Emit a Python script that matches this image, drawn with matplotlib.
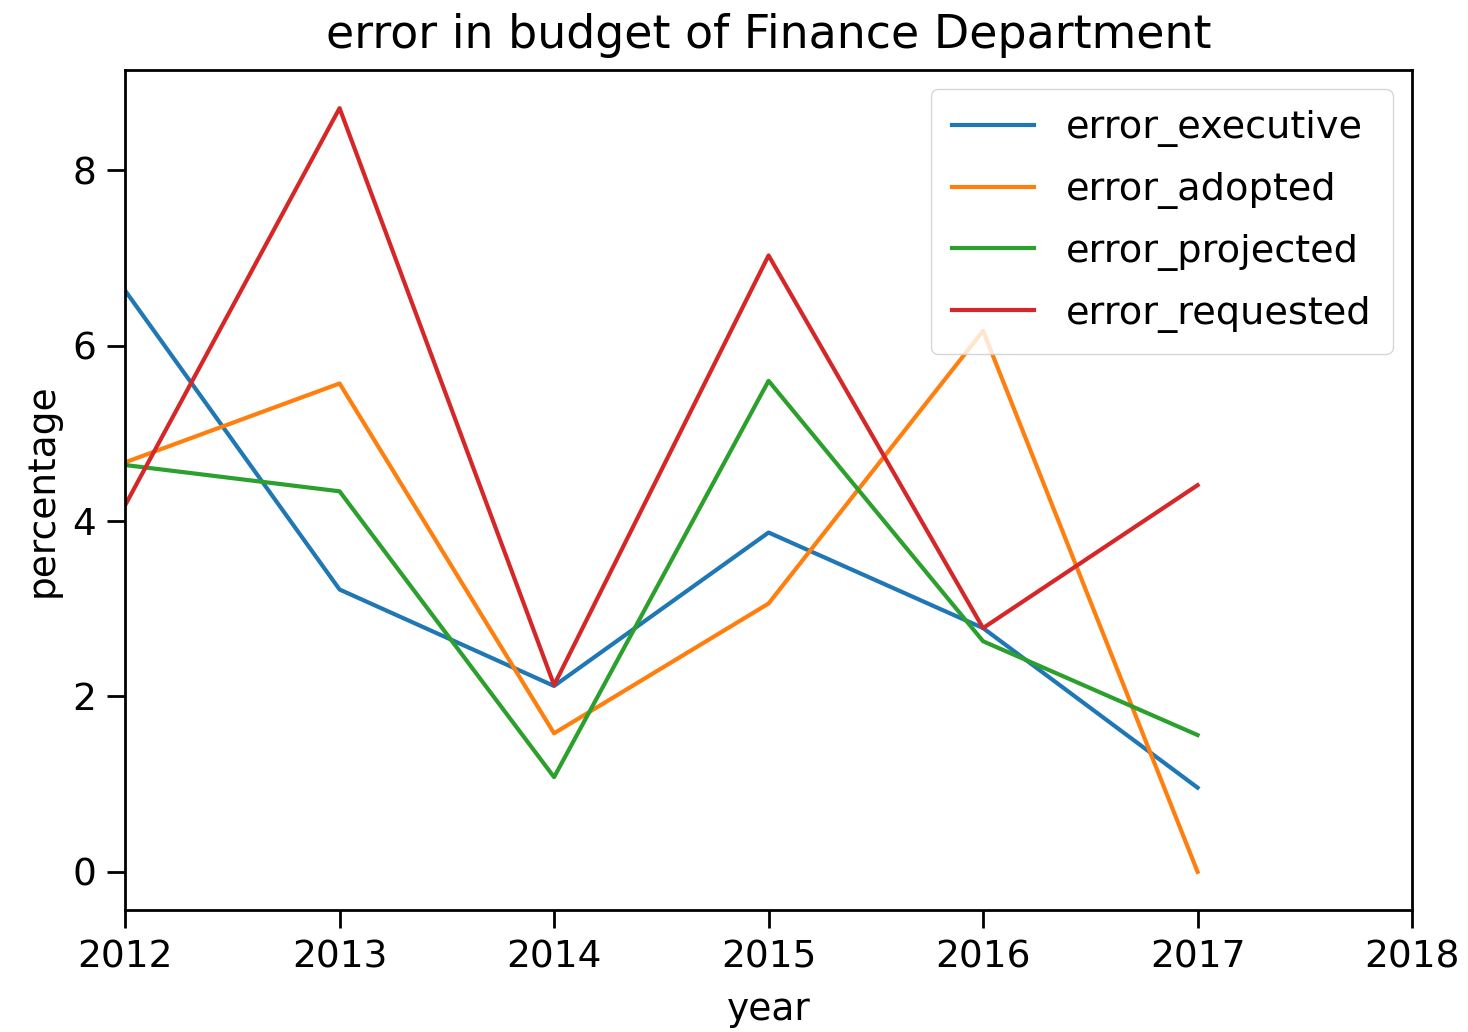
import matplotlib
matplotlib.use("Agg")
import matplotlib.pyplot as plt

# --- Data ---
years = [2012, 2013, 2014, 2015, 2016, 2017]
error_executive = [6.63, 3.22, 2.12, 3.87, 2.78, 0.96]
error_adopted = [4.67, 5.57, 1.58, 3.06, 6.17, 0.0]
error_projected = [4.64, 4.34, 1.08, 5.60, 2.63, 1.56]
error_requested = [4.18, 8.71, 2.13, 7.03, 2.78, 4.41]

series = {
    "error_executive": error_executive,
    "error_adopted": error_adopted,
    "error_projected": error_projected,
    "error_requested": error_requested,
}

# --- Plotting ---
fig = plt.figure(figsize=(14.68, 10.32), dpi=100)
ax = fig.add_axes([0.0852, 0.1182, 0.8767, 0.814])

for name, vals in series.items():
    ax.plot(years, vals, label=name, linewidth=3)

ax.set_xlim(2012, 2018)
ax.set_xticks([2012, 2013, 2014, 2015, 2016, 2017, 2018])
ax.set_yticks([0, 2, 4, 6, 8])
ax.set_title("error in budget of Finance Department", fontsize=33, pad=16)
ax.set_xlabel("year", fontsize=27, labelpad=12)
ax.set_ylabel("percentage", fontsize=27, labelpad=8)
ax.tick_params(labelsize=27, length=13, width=2, pad=8)
for sp in ax.spines.values():
    sp.set_linewidth(2)
ax.legend(loc="upper right", fontsize=27.5, handlelength=2.15, borderpad=0.55,
          labelspacing=0.65, handletextpad=0.85, borderaxespad=0.5)

fig.savefig("out.png", dpi=100)
